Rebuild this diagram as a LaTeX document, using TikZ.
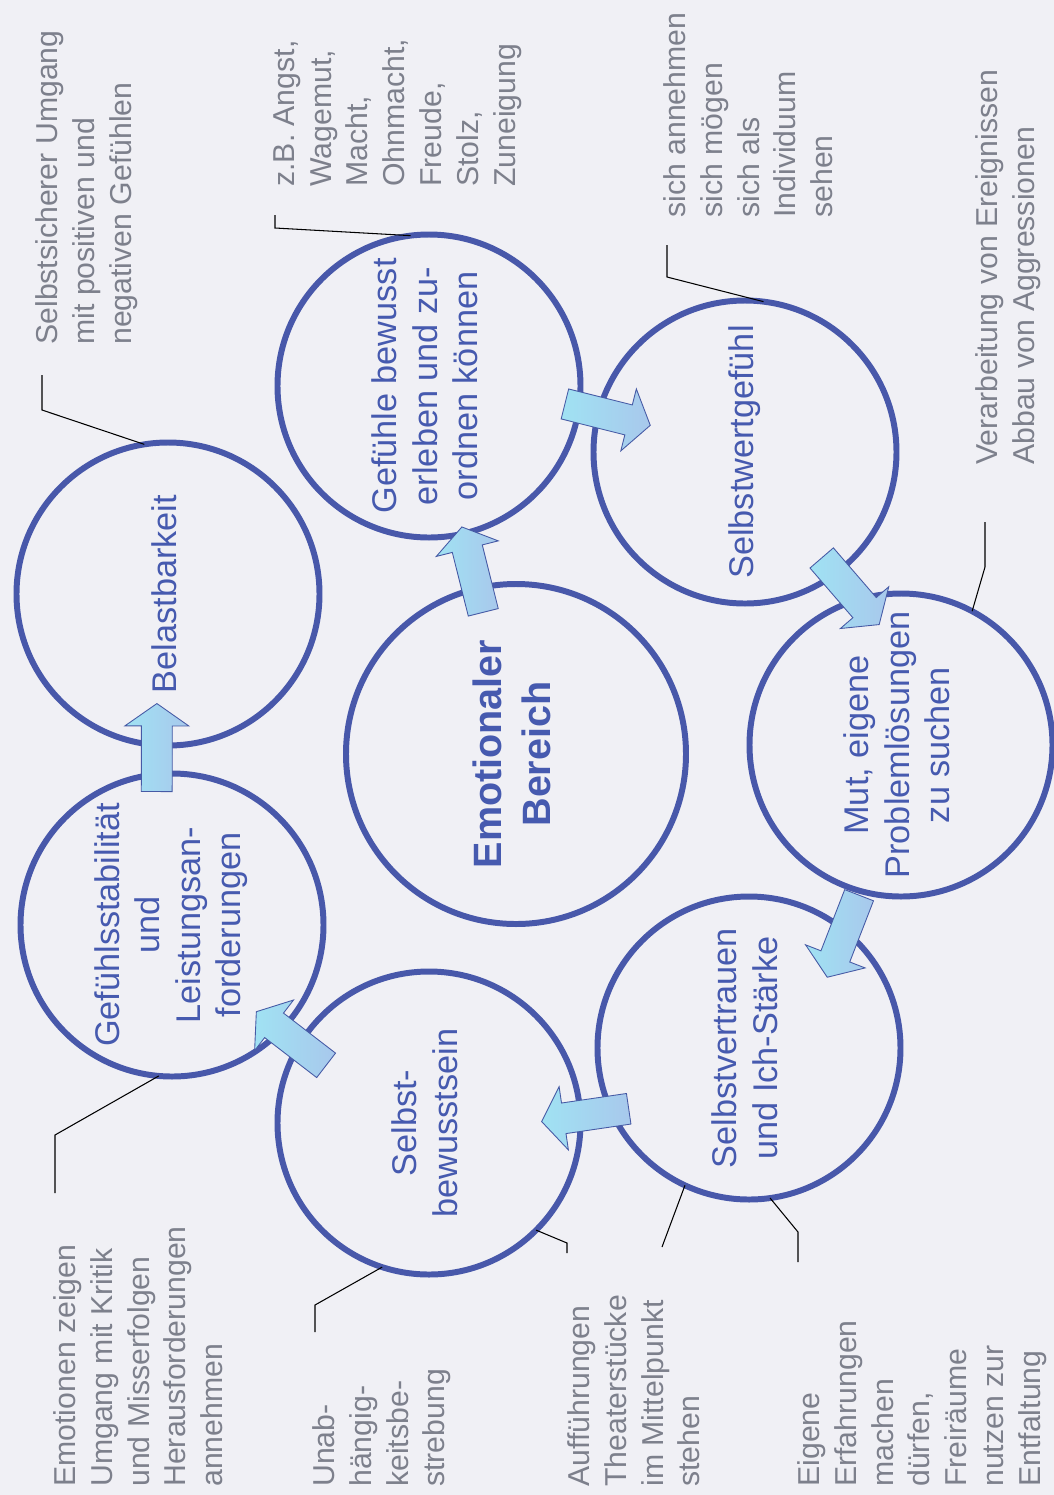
\documentclass[tikz,border=0pt]{standalone}
\usepackage{fontspec}
\setmainfont{Liberation Sans}
\usetikzlibrary{shapes.arrows}
\definecolor{papier}{RGB}{240,240,245}
\definecolor{kreisblau}{RGB}{72,88,170}
\definecolor{textblau}{RGB}{70,90,175}
\definecolor{notizgrau}{RGB}{125,128,140}
\definecolor{pfeilrand}{RGB}{70,90,165}
\definecolor{pfeilhell}{RGB}{160,226,243}
\definecolor{pfeilblau}{RGB}{168,200,236}
\newcommand{\kreistext}[1]{\rotatebox{90}{\begin{tabular}{@{}c@{}}#1\end{tabular}}}

\begin{document}
\begin{tikzpicture}[x = 0.2mm, y = -0.2mm,
        kreis/.style = {circle, draw = kreisblau, line width = 3.4pt, outer sep = 0pt,
            inner sep = 0pt, minimum size = 60.6mm, text = textblau,
            font = \fontsize{19.5}{23}\selectfont},
        pfeil/.style = {single arrow, draw = pfeilrand, line width = 0.5pt,
            left color = pfeilhell, right color = pfeilblau,
            minimum height = 17.6mm, inner xsep = 0pt, inner ysep = 3mm,
            single arrow head extend = 3.3mm, single arrow tip angle = 110,
            sloped, allow upside down},
        notiz/.style = {rotate = 90, anchor = north west, align = left, inner sep = 0pt,
            text = notizgrau, font = \fontsize{17.2}{21}\selectfont},
        leader/.style = {draw = black, line width = 0.6pt}]
        \path[use as bounding box, fill = papier] (0, 0) rectangle (1054, 1495);

        % circles
        \node[kreis] (bel) at (168, 594) {\kreistext{Belastbarkeit}};
        \node[kreis] (stab) at (172, 925) {\kreistext{Gefühlsstabilität\\und\\Leistungsan-\\forderungen}};
        \node[kreis, minimum size = 68mm, font = \fontsize{22.5}{28}\selectfont\bfseries] (emo) at (516, 754)
            {\kreistext{Emotionaler\\Bereich}};
        \node[kreis] (gef) at (429, 386) {\kreistext{Gefühle bewusst\\erleben und zu-\\ordnen können}};
        \node[kreis] (wert) at (745, 452) {\kreistext{Selbstwertgefühl}};
        \node[kreis] (mut) at (901, 745) {\kreistext{Mut, eigene\\Problemlösungen\\zu suchen}};
        \node[kreis] (vertr) at (749, 1048) {\kreistext{Selbstvertrauen\\und Ich-Stärke}};
        \node[kreis] (bew) at (429, 1123) {\kreistext{Selbst-\\bewusstsein}};

        % arrows
        \path (stab.264) -- node[pfeil, pos = 0.51] (p1) {} (bel.94);
        \path (emo.285) -- node[pfeil, pos = 0.506] (p2) {} (gef.105);
        \path (gef.160) -- node[pfeil, pos = 0.521] (p3) {} (wert.-13);
        \path (wert.135) -- node[pfeil, pos = 0.522] (p4) {} (mut.-25);
        \path (mut.63) -- node[pfeil, pos = 0.545] (p5) {} (vertr.267);
        \path (vertr.-8) -- node[pfeil, pos = 0.5] (p6) {} (bew.194);
        \path (bew.-44) -- node[pfeil, pos = 0.489] (p7) {} (stab.149);

        % notes
        \node[notiz] (umgang) at (35, 345) {Selbstsicherer Umgang\\mit positiven und\\negativen Gefühlen};
        \node[notiz] (angst) at (273, 187) {z.B. Angst,\\Wagemut,\\Macht,\\Ohnmacht,\\Freude,\\Stolz,\\Zuneigung};
        \node[notiz] (annehmen) at (663, 218) {sich annehmen\\sich mögen\\sich als\\Individuum\\sehen};
        \node[notiz] (verarb) at (975, 465) {Verarbeitung von Ereignissen\\Abbau von Aggressionen};
        \node[notiz] (zeigen) at (53, 1487) {Emotionen zeigen\\Umgang mit Kritik\\und Misserfolgen\\Herausforderungen\\annehmen};
        \node[notiz] (unab) at (312, 1487) {Unab-\\hängig-\\keitsbe-\\strebung};
        \node[notiz] (auff) at (567, 1487) {Aufführungen\\Theaterstücke\\im Mittelpunkt\\stehen};
        \node[notiz] (eigene) at (797, 1487) {Eigene\\Erfahrungen\\machen\\dürfen,\\Freiräume\\nutzen zur\\Entfaltung};

        % leader lines
        \coordinate (l1) at (42, 375);
        \coordinate (k1) at (42, 410);
        \coordinate (l2) at (275, 215);
        \coordinate (k2) at (275, 228);
        \coordinate (l3) at (667, 245);
        \coordinate (k3) at (667, 277);
        \coordinate (l4) at (985, 522);
        \coordinate (k4) at (985, 567);
        \coordinate (l5) at (55, 1193);
        \coordinate (k5) at (55, 1135);
        \coordinate (l6) at (315, 1332);
        \coordinate (k6) at (315, 1305);
        \coordinate (l7) at (567, 1253);
        \coordinate (k7) at (567, 1243);
        \coordinate (l8) at (662, 1247);
        \coordinate (l9) at (798, 1262);
        \coordinate (k9) at (798, 1232);
        \draw[leader] (l1) -- (k1) -- (bel.99);
        \draw[leader] (l2) -- (k2) -- (gef.97);
        \draw[leader] (l3) -- (k3) -- (wert.83);
        \draw[leader] (l4) -- (k4) -- (mut.62);
        \draw[leader] (l5) -- (k5) -- (stab.265);
        \draw[leader] (l6) -- (k6) -- (bew.252);
        \draw[leader] (l7) -- (k7) -- (bew.315);
        \draw[leader] (l8) -- (vertr.245);
        \draw[leader] (l9) -- (k9) -- (vertr.278);
    \end{tikzpicture}
\end{document}
